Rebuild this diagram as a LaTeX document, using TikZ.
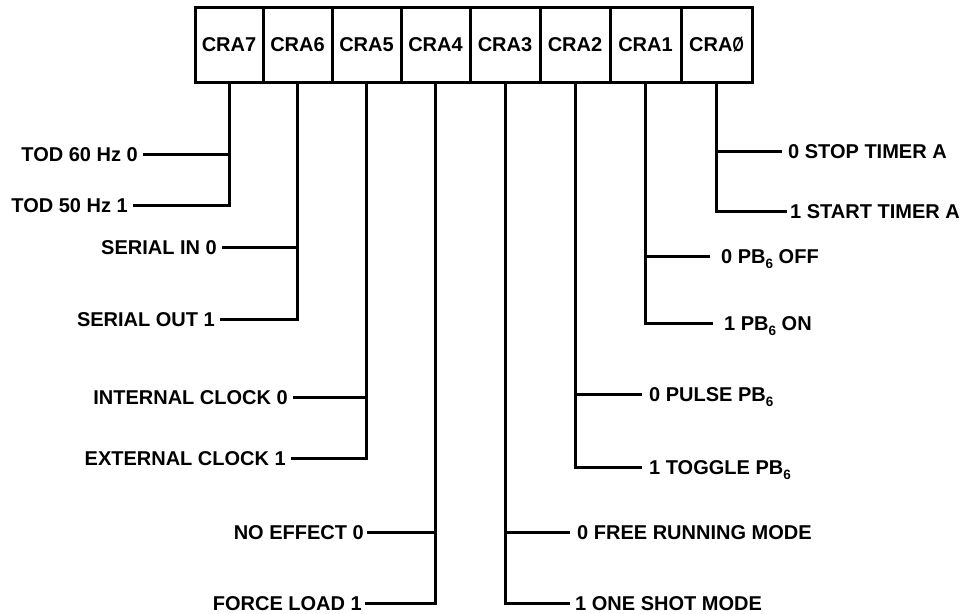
\documentclass[tikz,border=0pt]{standalone}
\usepackage{fontspec}
\newfontfamily\lblfont{Liberation Sans}
\newcommand\slz{\scalebox{0.72}[1]{Ø}}
\newcommand\sbsix{\raisebox{-5.5pt}{\fontsize{13.5}{14}\selectfont 6}}
\begin{document}
\begin{tikzpicture}[x=1pt,y=-1pt,
  every node/.style={font=\lblfont\bfseries\fontsize{20}{24}\selectfont},
  conn/.style={line width=3pt},
  cell/.style={draw,line width=3pt,minimum height=75pt,inner sep=0pt,anchor=center},
  lbl/.style={inner ysep=0pt,text height=14.5pt,text depth=0pt},
  lleft/.style={lbl,anchor=east,inner xsep=5pt},
  lright/.style={lbl,anchor=west,inner xsep=6pt}]
\useasboundingbox (0,0) rectangle (969,613);
% register cells
\node[cell,minimum width=68pt] (c7) at (229,44.5) {CRA7};
\node[cell,minimum width=69pt] (c6) at (297.5,44.5) {CRA6};
\node[cell,minimum width=69pt] (c5) at (366.5,44.5) {CRA5};
\node[cell,minimum width=69pt] (c4) at (435.5,44.5) {CRA4};
\node[cell,minimum width=70pt] (c3) at (505,44.5) {CRA3};
\node[cell,minimum width=70pt] (c2) at (575,44.5) {CRA2};
\node[cell,minimum width=71pt] (c1) at (645.5,44.5) {CRA1};
\node[cell,minimum width=71pt] (c0) at (716.5,44.5) {CRA\slz};
% left labels
\node[lleft] (l7a) at (143,154) {TOD 60 Hz 0};
\node[lleft] (l7b) at (133,205) {TOD 50 Hz 1};
\node[lleft] (l6a) at (222,247) {SERIAL IN 0};
\node[lleft] (l6b) at (220,319) {SERIAL OUT 1};
\node[lleft] (l5a) at (293,397) {INTERNAL CLOCK 0};
\node[lleft] (l5b) at (291,458) {EXTERNAL CLOCK 1};
\node[lleft,inner xsep=3pt] (l4a) at (367,532) {NO EFFECT 0};
\node[lleft,inner xsep=3pt] (l4b) at (365,603) {FORCE LOAD 1};
% right labels
\node[lright] (l0a) at (782,151) {0 STOP TIMER A};
\node[lright,inner xsep=3pt] (l0b) at (787,211) {1 START TIMER A};
\node[lright,inner xsep=11pt] (l1a) at (710,256) {0 PB\sbsix{} OFF};
\node[lright,inner xsep=11pt] (l1b) at (713,323) {1 PB\sbsix{} ON};
\node[lright,inner xsep=7pt] (l2a) at (642,394) {0 PULSE PB\sbsix};
\node[lright,inner xsep=7pt] (l2b) at (642,467) {1 TOGGLE PB\sbsix};
\node[lright,inner xsep=7pt] (l3a) at (570,532) {0 FREE RUNNING MODE};
\node[lright,inner xsep=5pt] (l3b) at (570,603) {1 ONE SHOT MODE};
% connectors, left side
\foreach \c/\a/\b in {c7/l7a/l7b,c6/l6a/l6b,c5/l5a/l5b,c4/l4a/l4b}{
  \draw[conn] (\c.south) |- (\b.east);
  \draw[conn] (\a.east) -- (\a.east -| \c.south);
}
% connectors, right side
\foreach \c/\a/\b in {c3/l3a/l3b,c2/l2a/l2b,c1/l1a/l1b,c0/l0a/l0b}{
  \draw[conn] (\c.south) |- (\b.west);
  \draw[conn] (\a.west) -- (\a.west -| \c.south);
}
\end{tikzpicture}
\end{document}
